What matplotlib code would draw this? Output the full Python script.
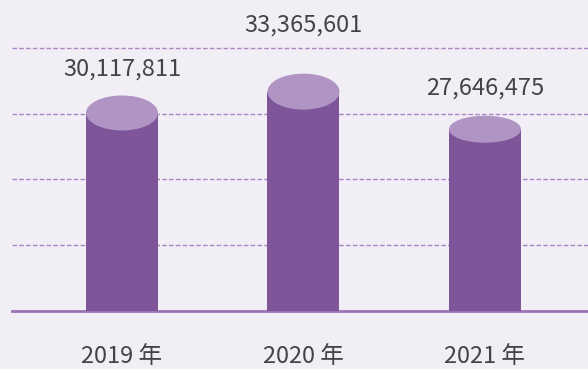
import matplotlib
matplotlib.use("Agg")
import matplotlib.pyplot as plt
from matplotlib.patches import Ellipse

plt.rcParams['font.family'] = ['Noto Sans CJK SC', 'DejaVu Sans']
plt.rcParams['lines.scale_dashes'] = False

# data
years = ["2019 年", "2020 年", "2021 年"]
values = [30117811, 33365601, 27646475]
value_labels = ["30,117,811", "33,365,601", "27,646,475"]

# styling
BG = "#f1eef6"
BODY = "#7f5599"
TOP = "#b094c3"
GRID = "#ab85c4"
BASE = "#9a73b5"
TEXT = "#444444"

W, H, DPI = 588, 369, 100
PX_PER_UNIT = 6.575 / 1e6      # pixels per value unit on the y axis
cap_px = [35, 36, 27]          # height of each cylinder's top ellipse, px
label_offsets_px = [44, 67, 41]

fig = plt.figure(figsize=(W / DPI, H / DPI), dpi=DPI, facecolor=BG)
left, base_y = 12, 311
pos = [left / W, (H - base_y) / H, (W - left) / W, base_y / H]

ax = fig.add_axes(pos)
ax.set_facecolor(BG)
ymax = base_y / PX_PER_UNIT
ax.set_ylim(0, ymax)
ax.set_xlim(-0.606, -0.606 + (W - left) / 181.5)
for s in ax.spines.values():
    s.set_visible(False)
ax.set_yticks([1e7, 2e7, 3e7, 4e7])
ax.tick_params(axis='y', length=0, labelleft=False)
ax.grid(axis='y', color=GRID, lw=1.0, dashes=(3.3, 1.6))
ax.set_axisbelow(True)

# baseline
ax.axhline(0, color=BASE, lw=2.0, zorder=2, clip_on=False)

bar_w = 72 / 181.5
xs = list(range(len(values)))
ax.bar(xs, values, width=bar_w, color=BODY, zorder=3, linewidth=0)
for x, v, cp in zip(xs, values, cap_px):
    ax.add_patch(Ellipse((x, v), bar_w, cp / PX_PER_UNIT,
                         facecolor=TOP, edgecolor='none', zorder=4))

ax.set_xticks(xs)
ax.set_xticklabels(years, fontsize=17, color=TEXT)
ax.tick_params(axis='x', length=0, pad=24.2)

for x, v, lab, off in zip(xs, values, value_labels, label_offsets_px):
    ax.annotate(lab, xy=(x, v), xytext=(0, off), textcoords='offset pixels',
                ha='center', va='center', fontsize=17, color=TEXT,
                annotation_clip=False)

fig.savefig("out.png", dpi=DPI, facecolor=BG)
